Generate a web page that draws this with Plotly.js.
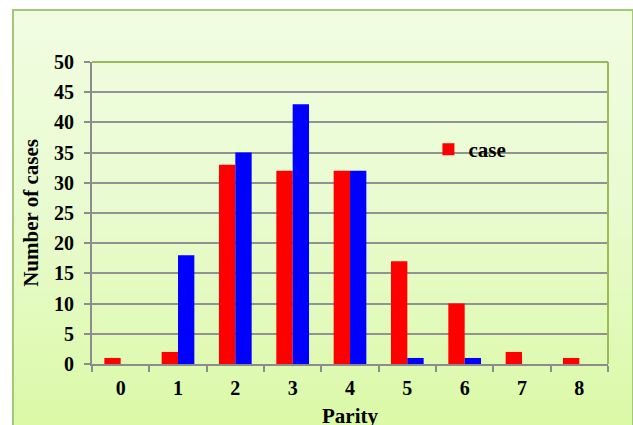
<!DOCTYPE html>
<html>
<head>
<meta charset="utf-8">
<script src="https://cdn.plot.ly/plotly-3.0.1.min.js"></script>
<style>
  html, body { margin: 0; padding: 0; background: #ffffff; }
  #wrap { position: relative; width: 633px; height: 425px; overflow: hidden; }
  #bg {
    position: absolute; left: 12px; top: 9px; width: 618px; height: 430px;
    border: 2px solid #A3C878;
    background: linear-gradient(to bottom, #F1FDE2 0%, #E9FBD0 45%, #DAF9A4 100%);
  }
  #chart { position: absolute; left: 0; top: 0; width: 633px; height: 425px; }
</style>
</head>
<body>
<div id="wrap">
  <div id="bg"></div>
  <div id="chart"></div>
</div>
<script>
const parity = ["0", "1", "2", "3", "4", "5", "6", "7", "8"];
const caseValues = [1, 2, 33, 32, 32, 17, 10, 2, 1];
const controlValues = [0, 18, 35, 43, 32, 1, 1, 0, 0];
const yTicks = [0, 5, 10, 15, 20, 25, 30, 35, 40, 45, 50];
const xTitle = "Parity";
const yTitle = "Number of cases";

const fam = "Liberation Serif, Times New Roman, serif";

const traces = [
  {
    type: "bar", name: "<b>case</b>", x: parity, y: caseValues,
    marker: { color: "#FF0000", line: { width: 0 } },
    showlegend: true
  },
  {
    type: "bar", name: "control", x: parity, y: controlValues,
    marker: { color: "#0000FF", line: { width: 0 } },
    showlegend: false
  }
];

const layout = {
  width: 633, height: 425,
  margin: { l: 92, r: 25, t: 62, b: 61, pad: 0 },
  paper_bgcolor: "rgba(0,0,0,0)",
  plot_bgcolor: "rgba(0,0,0,0)",
  font: { family: fam, size: 20, color: "#000" },
  barmode: "group",
  bargap: 0.43,
  bargroupgap: 0,
  xaxis: {
    type: "category",
    categoryorder: "array", categoryarray: parity,
    tickmode: "array", tickvals: parity, ticktext: parity.map(v => "<b>" + v + "</b>"),
    tickson: "boundaries",
    ticks: "outside", ticklen: 6, tickwidth: 2, tickcolor: "#8c8c8c",
    ticklabelstandoff: 5,
    showline: true, linecolor: "#8c8c8c", linewidth: 2,
    showgrid: false, zeroline: false,
    tickfont: { family: fam, size: 20, color: "#000" },
    fixedrange: true
  },
  yaxis: {
    range: [0, 50],
    tickmode: "array", tickvals: yTicks, ticktext: yTicks.map(v => "<b>" + v + "</b>"),
    ticks: "outside", ticklen: 6, tickwidth: 2, tickcolor: "#8c8c8c",
    ticklabelstandoff: 6,
    showline: true, linecolor: "#8c8c8c", linewidth: 2,
    showgrid: true, gridcolor: "#929292", gridwidth: 2,
    zeroline: false,
    tickfont: { family: fam, size: 20, color: "#000" },
    title: { text: "<b>" + yTitle + "</b>", font: { family: fam, size: 21, color: "#000" }, standoff: 10 },
    fixedrange: true
  },
  legend: {
    x: 0.652, y: 0.71, xanchor: "left", yanchor: "middle",
    bgcolor: "rgba(0,0,0,0)", borderwidth: 0,
    font: { family: fam, size: 21, color: "#000" },
    itemwidth: 30
  },
  annotations: [
    { text: "<b>" + xTitle + "</b>", xref: "paper", yref: "paper", x: 0.5, y: 0,
      xanchor: "center", yanchor: "top", yshift: -38, showarrow: false,
      font: { family: fam, size: 21, color: "#000" } }
  ],
  shapes: [
    { type: "line", xref: "paper", yref: "paper", x0: 0, x1: 1, y0: 1, y1: 1,
      line: { color: "#9BBB59", width: 2 }, layer: "above" },
    { type: "line", xref: "paper", yref: "paper", x0: 1, x1: 1, y0: 0, y1: 1,
      line: { color: "#9BBB59", width: 2 }, layer: "above" }
  ]
};

Plotly.newPlot("chart", traces, layout, { displayModeBar: false, staticPlot: true });
</script>
</body>
</html>
